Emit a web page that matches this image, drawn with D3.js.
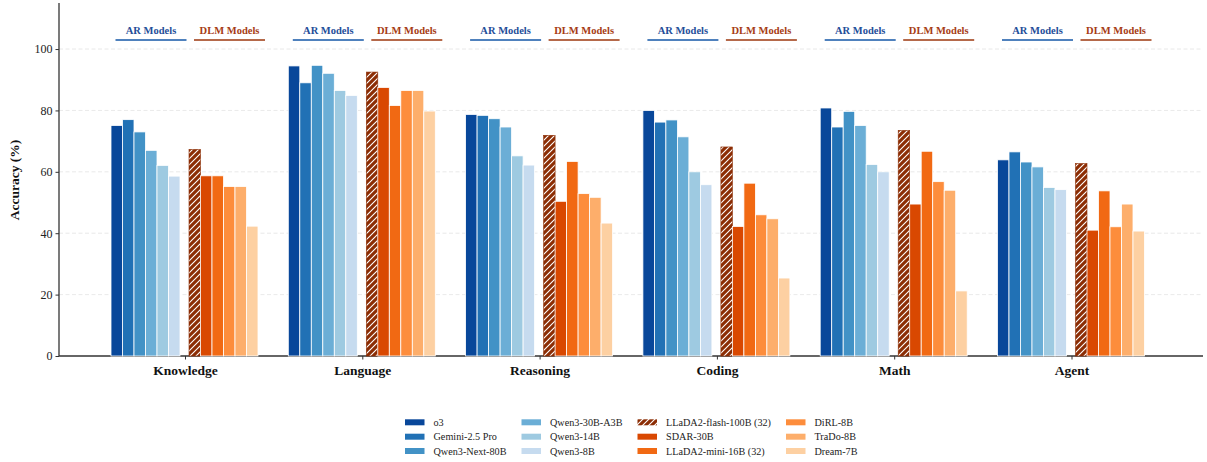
<!DOCTYPE html>
<html><head><meta charset="utf-8">
<script src="https://cdn.jsdelivr.net/npm/d3@7"></script>
<style>body{margin:0;background:#fff}svg{display:block}</style>
</head><body>
<svg id="c" width="1207" height="462"></svg>
<script>
const categories = ["Knowledge","Language","Reasoning","Coding","Math","Agent"];
const arModels = ["o3","Gemini-2.5 Pro","Qwen3-Next-80B","Qwen3-30B-A3B","Qwen3-14B","Qwen3-8B"];
const dlmModels = ["LLaDA2-flash-100B (32)","SDAR-30B","LLaDA2-mini-16B (32)","DiRL-8B","TraDo-8B","Dream-7B"];
const arColors = ["#08479a","#2171b5","#4292c6","#6baed6","#9ecae1","#c6dbef"];
const dlmColors = ["#8c2d04","#d94801","#f16913","#fd8d3c","#fdae6b","#fdd0a2"];
// values per model, ordered by categories
const o3 =          [75.1, 94.5, 78.7, 80.0, 80.8, 63.9];
const gemini =      [77.0, 89.0, 78.4, 76.2, 74.6, 66.5];
const qwenNext =    [73.0, 94.7, 77.3, 76.9, 79.7, 63.2];
const qwen30 =      [67.0, 92.1, 74.6, 71.4, 75.1, 61.6];
const qwen14 =      [62.1, 86.5, 65.2, 60.0, 62.4, 54.9];
const qwen8 =       [58.6, 84.9, 62.2, 55.8, 60.0, 54.2];
const lladaFlash =  [67.3, 92.5, 71.9, 68.1, 73.5, 62.7];
const sdar =        [58.7, 87.5, 50.4, 42.2, 49.5, 41.0];
const lladaMini =   [58.7, 81.6, 63.4, 56.3, 66.7, 53.8];
const dirl =        [55.2, 86.5, 52.9, 46.0, 56.8, 42.1];
const trado =       [55.2, 86.5, 51.7, 44.7, 54.0, 49.5];
const dream =       [42.3, 79.8, 43.3, 25.4, 21.2, 40.7];
const yTicks = [0,20,40,60,80,100];
const arValues = [o3,gemini,qwenNext,qwen30,qwen14,qwen8];
const dlmValues = [lladaFlash,sdar,lladaMini,dirl,trado,dream];

const svg = d3.select("#c");
const serif = "'Liberation Serif','Times New Roman',serif";
const x0 = 59, x1 = 1203, yTop = 3, yBase = 356;

const x = d3.scalePoint().domain(categories).range([185, 1071.5]);
const y = d3.scaleLinear().domain([0,115]).range([yBase, yTop]);
const bw = 11.5;

const defs = svg.append("defs");
const pat = defs.append("pattern").attr("id","hatch").attr("patternUnits","userSpaceOnUse")
  .attr("width",6).attr("height",6);
pat.append("rect").attr("width",6).attr("height",6).attr("fill",dlmColors[0]);
pat.append("path").attr("d","M-1,1 L1,-1 M0,6 L6,0 M5,7 L7,5").attr("stroke","#fff").attr("stroke-width",1.1);

// gridlines
svg.append("g").selectAll("line").data(yTicks.filter(d=>d>0)).join("line")
  .attr("x1",x0).attr("x2",x1).attr("y1",d=>y(d)).attr("y2",d=>y(d))
  .attr("stroke","#e3e3e3").attr("stroke-width",0.8).attr("stroke-dasharray","4,2.5");

// axes
const yAxis = svg.append("g").attr("transform",`translate(${x0},0)`)
  .call(d3.axisLeft(y).tickValues(yTicks).tickSize(3.5).tickPadding(3));
yAxis.select(".domain").attr("d",`M0,${yTop}V${yBase}`).attr("stroke","#333").attr("stroke-width",1.3);
yAxis.selectAll(".tick line").attr("stroke","#333");
yAxis.selectAll("text").attr("font-family",serif).attr("font-size",12).attr("fill","#222");

const xAxis = svg.append("g").attr("transform",`translate(0,${yBase})`)
  .call(d3.axisBottom(x).tickSize(3.5).tickPadding(3));
xAxis.select(".domain").attr("d",`M${x0},0H${x1}`).attr("stroke","#333").attr("stroke-width",1.5);
xAxis.selectAll(".tick line").attr("stroke","#333");
xAxis.selectAll("text").attr("font-family",serif).attr("font-size",13.5).attr("font-weight","bold").attr("fill","#111").attr("dy","0.95em");

// bars
const bars = svg.append("g");
categories.forEach((cat,ci)=>{
  const cx = x(cat);
  arValues.forEach((vals,j)=>{
    bars.append("rect").attr("x",cx-74+j*bw).attr("width",bw)
      .attr("y",y(vals[ci])).attr("height",yBase-y(vals[ci]))
      .attr("fill",arColors[j]).attr("stroke","#fff").attr("stroke-width",0.8);
  });
  dlmValues.forEach((vals,j)=>{
    bars.append("rect").attr("x",cx+4+j*bw).attr("width",bw)
      .attr("y",y(vals[ci])).attr("height",yBase-y(vals[ci]))
      .attr("fill",j===0?"url(#hatch)":dlmColors[j]).attr("stroke",j===0?"#8c2d04":"#fff").attr("stroke-width",j===0?0.6:0.8);
  });
  // group labels
  const groups = [{t:"AR Models",c:cx-34,tc:"#1f4e99",lc:"#4f81bd"},{t:"DLM Models",c:cx+44.5,tc:"#a63c14",lc:"#b5694a"}];
  groups.forEach(g=>{
    svg.append("text").attr("x",g.c).attr("y",33.5).attr("text-anchor","middle")
      .attr("font-family",serif).attr("font-weight","bold").attr("font-size",10.5).attr("fill",g.tc).text(g.t);
    svg.append("line").attr("x1",g.c-35.5).attr("x2",g.c+35.5).attr("y1",40).attr("y2",40)
      .attr("stroke",g.lc).attr("stroke-width",2);
  });
});

// y title
svg.append("text").attr("transform","translate(19,180) rotate(-90)").attr("text-anchor","middle")
  .attr("font-family",serif).attr("font-weight","bold").attr("font-size",13.5).attr("fill","#111").text("Accuracy (%)");

// legend
const legendCols = [
  {sx:405, tx:433.5, items:[0,1,2].map(i=>({n:arModels[i],c:arColors[i]}))},
  {sx:521.5, tx:550, items:[3,4,5].map(i=>({n:arModels[i],c:arColors[i]}))},
  {sx:637.5, tx:666, items:[0,1,2].map(i=>({n:dlmModels[i],c:i===0?"url(#hatch)":dlmColors[i]}))},
  {sx:786, tx:814.5, items:[3,4,5].map(i=>({n:dlmModels[i],c:dlmColors[i]}))}
];
const rowsY = [422.3,436.7,451];
const lg = svg.append("g");
legendCols.forEach(col=>{
  col.items.forEach((it,r)=>{
    lg.append("rect").attr("x",col.sx).attr("y",rowsY[r]-3).attr("width",19.5).attr("height",6).attr("fill",it.c);
    lg.append("text").attr("x",col.tx).attr("y",rowsY[r]+3.6).attr("font-family",serif).attr("font-size",10.2).attr("fill","#222").text(it.n);
  });
});
</script>
</body></html>
